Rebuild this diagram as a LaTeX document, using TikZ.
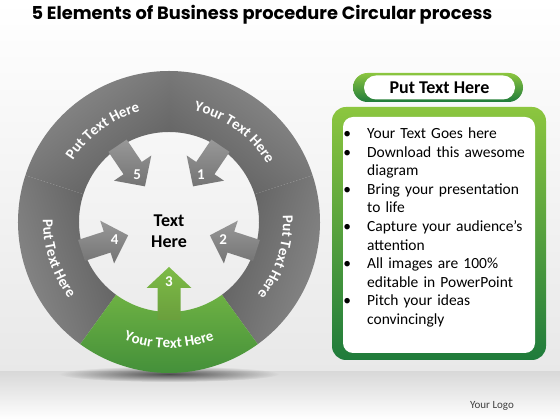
\documentclass[tikz,border=0pt]{standalone}
\usepackage{fontspec}
\setmainfont{Carlito}
\newfontfamily\titlefont{Poppins}
\usetikzlibrary{positioning}
\usetikzlibrary{calc}
\usetikzlibrary{decorations.text}
\usetikzlibrary{fadings}
\definecolor{ringlight}{HTML}{8C8C8C}
\definecolor{ringdark}{HTML}{5E5E5E}
\definecolor{arrowgrey}{HTML}{7E7E7E}
\definecolor{greenlight}{HTML}{6DB143}
\definecolor{greendark}{HTML}{3F8C39}
\definecolor{arrowgreen}{HTML}{7DBB47}
\definecolor{boxlight}{HTML}{8CC63F}
\definecolor{boxdark}{HTML}{1F7B3B}
\newcommand\sectorfont{\bfseries\fontsize{15}{16}\selectfont}
\tikzfading[name=shadowfade, inner color=transparent!35, outer color=transparent!100]
\tikzstyle{sector}=[left color=ringlight, right color=ringdark]
\tikzstyle{inarrow}=[top color=arrowgrey!80!white, bottom color=arrowgrey!92!black]
\tikzstyle{number}=[font=\bfseries\fontsize{15}{15}\selectfont, text=white]
\tikzstyle{bigtext}=[font=\bfseries\fontsize{18}{21}\selectfont, align=center]
\tikzstyle{greenframe}=[top color=boxlight, bottom color=boxdark, inner sep=0pt]
\tikzset{sectortext/.style={decorate, decoration={text along path, text align=center, text color=white, text={|\sectorfont|#1}}}}

\begin{document}
\begin{tikzpicture}[x=1pt, y=1pt]
    \useasboundingbox (0,0) rectangle (560,420);
    % background and floor
    \shade[top color=white, bottom color=black!9] (0,48) rectangle (560,420);
    \shade[top color=black!15, bottom color=white] (0,0) rectangle (560,48);
    \fill[black, path fading=shadowfade] (169,46) ellipse [x radius=110pt, y radius=8pt];

    \node[font=\titlefont\bfseries\fontsize{17.8}{20}\selectfont] (title) at (262,405) {5 Elements of Business procedure Circular process};

  \begin{scope}[shift={(169,198)}]
    % First we draw the grey sectors
    \foreach \from/\to/\ang in {18/90/-36, -54/18/-108, 90/162/36, 162/234/108}
        \path[sector, shading angle=\ang] (\from:151pt) arc[start angle=\from, end angle=\to, radius=151pt]
            -- (\to:90pt) arc[start angle=\to, end angle=\from, radius=90pt] -- cycle;
    % the green one
    \path[top color=greenlight, bottom color=greendark] (-126:151pt) arc[start angle=-126, end angle=-54, radius=151pt]
        -- (-54:90pt) arc[start angle=-54, end angle=-126, radius=90pt] -- cycle;

    % Arrows pointing to the middle
    \foreach \ang/\name/\label in {56/n1/1, -18/n2/2, 198/n4/4, 124/n5/5}{
        \begin{scope}[rotate=\ang]
            \path[inarrow] (43,0) -- (65,22.5) -- (65,11) -- (92,11) -- (92,-11) -- (65,-11) -- (65,-22.5) -- cycle;
        \end{scope}
        \node[number] (\name) at (\ang:57pt) {\label};
    }
    \begin{scope}[rotate=-90]
        \path[top color=arrowgreen, bottom color=arrowgreen!85!black] (45,0) -- (66,22.5) -- (66,11.5) -- (98,11.5) -- (98,-11.5) -- (66,-11.5) -- (66,-22.5) -- cycle;
    \end{scope}
    \node[number] (n3) at (-90:60pt) {3};

    \node[bigtext] (middle) at (0,-9) {Text\\Here};

    % Texts along the ring
    \path[sectortext=Your Text Here] (90:114pt) arc[start angle=90, end angle=18, radius=114pt];
    \path[sectortext=Put Text Here] (18:114pt) arc[start angle=18, end angle=-54, radius=114pt];
    \path[sectortext=Put Text Here] (162:114pt) arc[start angle=162, end angle=90, radius=114pt];
    \path[sectortext=Your Text Here] (-126:126pt) arc[start angle=-126, end angle=-54, radius=126pt];
    \path[sectortext=Put Text Here] (162:126pt) arc[start angle=162, end angle=234, radius=126pt];
  \end{scope}

    % Right hand panel
    \node[greenframe, rounded corners=14.5pt, minimum width=170pt, minimum height=29pt] (headframe) at (438,332.5) {};
    \node[fill=white, rounded corners=12pt, minimum width=151pt, minimum height=24pt, inner sep=0pt,
          font=\bfseries\fontsize{18}{20}\selectfont] (head) at (439.5,332.5) {Put Text Here};
    \node[greenframe, rounded corners=14pt, minimum width=214pt, minimum height=253pt] (frame) at (439,186.5) {};
    \node[fill=white, rounded corners=10pt, minimum width=192pt, minimum height=236pt, inner sep=0pt] (box) at (439,185) {};
    \node[anchor=base west, text width=200pt, inner sep=0pt, font=\fontsize{15.5}{18.6}\selectfont] (list) at (336,300) {%
        \begin{list}{\textbullet}{\setlength{\leftmargin}{31pt}\setlength{\labelsep}{16pt}\setlength{\labelwidth}{15pt}%
            \setlength{\itemsep}{0pt}\setlength{\parsep}{0pt}\setlength{\topsep}{0pt}\setlength{\partopsep}{0pt}}
        \item Your Text Goes here
        \item Download this awesome\\diagram
        \item Bring your presentation\\to life
        \item Capture your audience’s\\attention
        \item All images are 100\%\\editable in PowerPoint
        \item Pitch your ideas\\convincingly
        \end{list}};

    \node[font=\fontsize{11}{13}\selectfont, text=black!75] (logo) at (492,14) {Your Logo};
\end{tikzpicture}
\end{document}
